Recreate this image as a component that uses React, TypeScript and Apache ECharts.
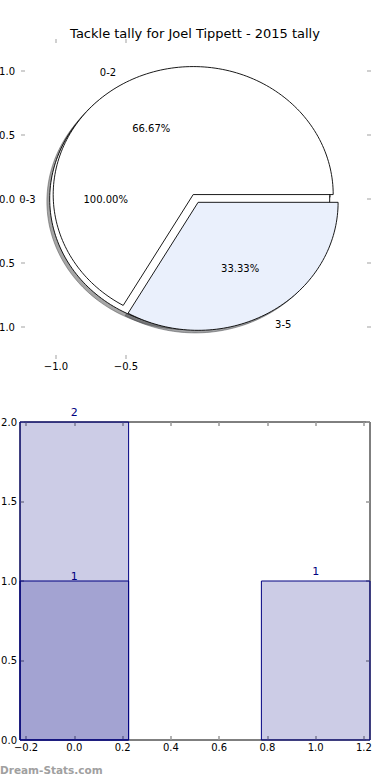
import React, { useEffect, useRef } from "react";
import * as echarts from "echarts";

const chartTitle = "Tackle tally for Joel Tippett - 2015 tally";
const watermark = "Dream-Stats.com";

// Pie 1 (drawn first): single full wedge
const outerPieLabels = ["0-3"];
const outerPieValues = [3];
const outerPieExplode = [0.045];
const outerPieColors = ["#ffffff"];

// Pie 2 (drawn on top)
const innerPieLabels = ["0-2", "3-5"];
const innerPieValues = [2, 1];
const innerPieExplode = [0.04, 0.03];
const innerPieColors = ["#ffffff", "#eaf0fc"];

const pieXTicks = [-1.0, -0.5];
const pieYTicks = [-1.0, -0.5, 0.0, 0.5, 1.0];

// Bar chart
const barXTicks = [-0.2, 0.0, 0.2, 0.4, 0.6, 0.8, 1.0, 1.2];
const barPositionsA = [0, 1];
const barValuesA = [2, 1];
const barPositionsB = [0];
const barValuesB = [1];
const barWidth = 0.45;

const FONT = '"DejaVu Sans", sans-serif';
const fmt = (v: number) => (v < 0 ? "\u2212" : "") + Math.abs(v).toFixed(1);

type Wedge = {
  label: string;
  pct: number;
  a1: number;
  a2: number;
  cx: number;
  cy: number;
  color: string;
};

function buildWedges(labels: string[], values: number[], explode: number[], colors: string[]): Wedge[] {
  const total = values.reduce((a, b) => a + b, 0);
  let start = 0;
  return values.map((v, i) => {
    const span = (v / total) * 360;
    const a1 = start;
    const a2 = start + span;
    start = a2;
    const mid = ((a1 + a2) / 2) * (Math.PI / 180);
    return {
      label: labels[i],
      pct: (v / total) * 100,
      a1,
      a2,
      cx: explode[i] * Math.cos(mid),
      cy: explode[i] * Math.sin(mid),
      color: colors[i],
    };
  });
}

const outerWedges = buildWedges(outerPieLabels, outerPieValues, outerPieExplode, outerPieColors);
const innerWedges = buildWedges(innerPieLabels, innerPieValues, innerPieExplode, innerPieColors);
const allWedges = [...outerWedges, ...innerWedges];

function wedgePoints(api: any, w: Wedge, ox: number, oy: number) {
  const pts: number[][] = [];
  const full = w.a2 - w.a1 >= 360 - 1e-9;
  if (!full) pts.push(api.coord([w.cx + ox, w.cy + oy]));
  const n = Math.max(8, Math.ceil((w.a2 - w.a1) / 1.5));
  for (let k = 0; k <= n; k++) {
    const t = ((w.a1 + ((w.a2 - w.a1) * k) / n) * Math.PI) / 180;
    pts.push(api.coord([w.cx + ox + Math.cos(t), w.cy + oy + Math.sin(t)]));
  }
  return pts;
}

function shadowColor(hex: string) {
  const h = hex.replace("#", "");
  const r = parseInt(h.slice(0, 2), 16) * 0.3;
  const g = parseInt(h.slice(2, 4), 16) * 0.3;
  const b = parseInt(h.slice(4, 6), 16) * 0.3;
  return `rgba(${Math.round(r)},${Math.round(g)},${Math.round(b)},0.5)`;
}

function pieSeries(wedges: Wedge[], kind: "shadow" | "wedge" | "label", z: number) {
  return {
    type: "custom",
    xAxisIndex: 0,
    yAxisIndex: 0,
    z,
    silent: true,
    data: wedges.map((_, i) => [i, 0]),
    renderItem: (params: any, api: any) => {
      const w = wedges[params.dataIndex];
      if (kind === "shadow") {
        return {
          type: "polygon",
          shape: { points: wedgePoints(api, w, -0.02, -0.02) },
          style: { fill: shadowColor(w.color), stroke: shadowColor(w.color), lineWidth: 1 },
        };
      }
      if (kind === "wedge") {
        return {
          type: "polygon",
          shape: { points: wedgePoints(api, w, 0, 0) },
          style: { fill: w.color, stroke: "#000", lineWidth: 0.9 },
        };
      }
      const mid = ((w.a1 + w.a2) / 2) * (Math.PI / 180);
      const lp = api.coord([w.cx + 1.1 * Math.cos(mid), w.cy + 1.1 * Math.sin(mid)]);
      const pp = api.coord([w.cx + 0.6 * Math.cos(mid), w.cy + 0.6 * Math.sin(mid)]);
      const al = 1.1 * Math.cos(mid) + w.cx > 0 ? "left" : "right";
      return {
        type: "group",
        children: [
          {
            type: "text",
            x: lp[0],
            y: lp[1],
            style: {
              text: w.label,
              fill: "#000",
              font: `10px ${FONT}`,
              align: al,
              textAlign: al,
              verticalAlign: "middle",
              textVerticalAlign: "middle",
            },
          },
          {
            type: "text",
            x: pp[0],
            y: pp[1],
            style: {
              text: w.pct.toFixed(2) + "%",
              fill: "#000",
              font: `10px ${FONT}`,
              align: "center",
              textAlign: "center",
              verticalAlign: "middle",
              textVerticalAlign: "middle",
            },
          },
        ],
      };
    },
  };
}

function barSeries(positions: number[], values: number[], labelOffset: number, z: number) {
  return {
    type: "custom",
    xAxisIndex: 2,
    yAxisIndex: 2,
    z,
    silent: true,
    data: positions.map((p, i) => [p, values[i]]),
    encode: { x: 0, y: 1 },
    renderItem: (params: any, api: any) => {
      const x = api.value(0);
      const y = api.value(1);
      const p0 = api.coord([x - barWidth / 2, y]);
      const p1 = api.coord([x + barWidth / 2, 0]);
      return {
        type: "group",
        children: [
          {
            type: "rect",
            shape: { x: p0[0], y: p0[1], width: p1[0] - p0[0], height: p1[1] - p0[1] },
            style: { fill: "rgba(0,0,128,0.2)", stroke: "#000080", lineWidth: 1 },
          },
          {
            type: "text",
            x: (p0[0] + p1[0]) / 2,
            y: p0[1] - labelOffset,
            z2: 10,
            style: {
              text: String(y),
              fill: "#000080",
              font: `11px ${FONT}`,
              align: "center",
              textAlign: "center",
              verticalAlign: "middle",
              textVerticalAlign: "middle",
            },
          },
        ],
      };
    },
  };
}

const pieTick = { show: true, inside: true, length: 4, lineStyle: { color: "#c0c0c0", width: 1.5 } };
const barTick = { show: true, inside: true, length: 4, lineStyle: { color: "#999999", width: 1.5 } };
const labelStyle = { fontFamily: FONT, fontSize: 10, color: "#000" };
const noLine = { show: false, onZero: false };

export default function App() {
  const ref = useRef<HTMLDivElement>(null);
  useEffect(() => {
    document.body.style.margin = "0";
    if (!ref.current) return;
    const chart = echarts.init(ref.current, undefined, { renderer: "svg" });
    const option: any = {
      animation: false,
      backgroundColor: "#ffffff",
      title: {
        text: chartTitle,
        left: "center",
        top: 22,
        textStyle: { fontFamily: FONT, fontSize: 13, fontWeight: "normal", color: "#000" },
      },
      grid: [
        { left: 21, top: 39, width: 350, height: 320, show: false, containLabel: false, outerBoundsMode: "none" },
        {
          left: 20,
          top: 422,
          width: 350,
          height: 318,
          show: true,
          borderColor: "#000",
          borderWidth: 1,
          backgroundColor: "transparent",
          containLabel: false,
          outerBoundsMode: "none",
        },
      ],
      xAxis: [
        {
          type: "value",
          gridIndex: 0,
          position: "bottom",
          min: -1.25,
          max: 1.25,
          axisLine: noLine,
          splitLine: { show: false },
          axisTick: { ...pieTick, customValues: pieXTicks },
          axisLabel: { ...labelStyle, customValues: pieXTicks, formatter: fmt, margin: 2 },
        },
        {
          type: "value",
          gridIndex: 0,
          position: "top",
          min: -1.25,
          max: 1.25,
          axisLine: noLine,
          splitLine: { show: false },
          axisTick: { ...pieTick, customValues: pieXTicks },
          axisLabel: { show: false },
        },
        {
          type: "value",
          gridIndex: 1,
          position: "bottom",
          min: -barWidth / 2,
          max: 1 + barWidth / 2,
          axisLine: noLine,
          splitLine: { show: false },
          axisTick: { ...barTick, customValues: barXTicks },
          axisLabel: { ...labelStyle, customValues: barXTicks, formatter: fmt, margin: 2 },
        },
        {
          type: "value",
          gridIndex: 1,
          position: "top",
          min: -barWidth / 2,
          max: 1 + barWidth / 2,
          axisLine: noLine,
          splitLine: { show: false },
          axisTick: { ...barTick, customValues: barXTicks },
          axisLabel: { show: false },
        },
      ],
      yAxis: [
        {
          type: "value",
          gridIndex: 0,
          position: "left",
          min: -1.25,
          max: 1.25,
          axisLine: noLine,
          splitLine: { show: false },
          axisTick: { ...pieTick, customValues: pieYTicks },
          axisLabel: { ...labelStyle, customValues: pieYTicks, formatter: fmt, margin: 6 },
        },
        {
          type: "value",
          gridIndex: 0,
          position: "right",
          min: -1.25,
          max: 1.25,
          axisLine: noLine,
          splitLine: { show: false },
          axisTick: { ...pieTick, customValues: pieYTicks },
          axisLabel: { show: false },
        },
        {
          type: "value",
          gridIndex: 1,
          position: "left",
          min: 0,
          max: 2,
          interval: 0.5,
          axisLine: noLine,
          splitLine: { show: false },
          axisTick: barTick,
          axisLabel: { ...labelStyle, formatter: fmt, margin: 3 },
        },
        {
          type: "value",
          gridIndex: 1,
          position: "right",
          min: 0,
          max: 2,
          interval: 0.5,
          axisLine: noLine,
          splitLine: { show: false },
          axisTick: barTick,
          axisLabel: { show: false },
        },
      ],
      series: [
        pieSeries(allWedges, "shadow", 1),
        pieSeries(outerWedges, "wedge", 2),
        pieSeries(innerWedges, "wedge", 3),
        pieSeries(allWedges, "label", 4),
        barSeries(barPositionsA, barValuesA, 10, 2),
        barSeries(barPositionsB, barValuesB, 5, 3),
      ],
      graphic: [
        {
          type: "text",
          x: 0,
          y: 770,
          style: {
            text: watermark,
            fill: "#a0a0a0",
            font: `bold 10.5px ${FONT}`,
            align: "left",
            textAlign: "left",
            verticalAlign: "middle",
            textVerticalAlign: "middle",
          },
        },
      ],
    };
    chart.setOption(option);
    return () => chart.dispose();
  }, []);
  return (
    <div
      ref={ref}
      style={{ position: "absolute", left: 0, top: 0, width: 390, height: 780, background: "#fff" }}
    />
  );
}
